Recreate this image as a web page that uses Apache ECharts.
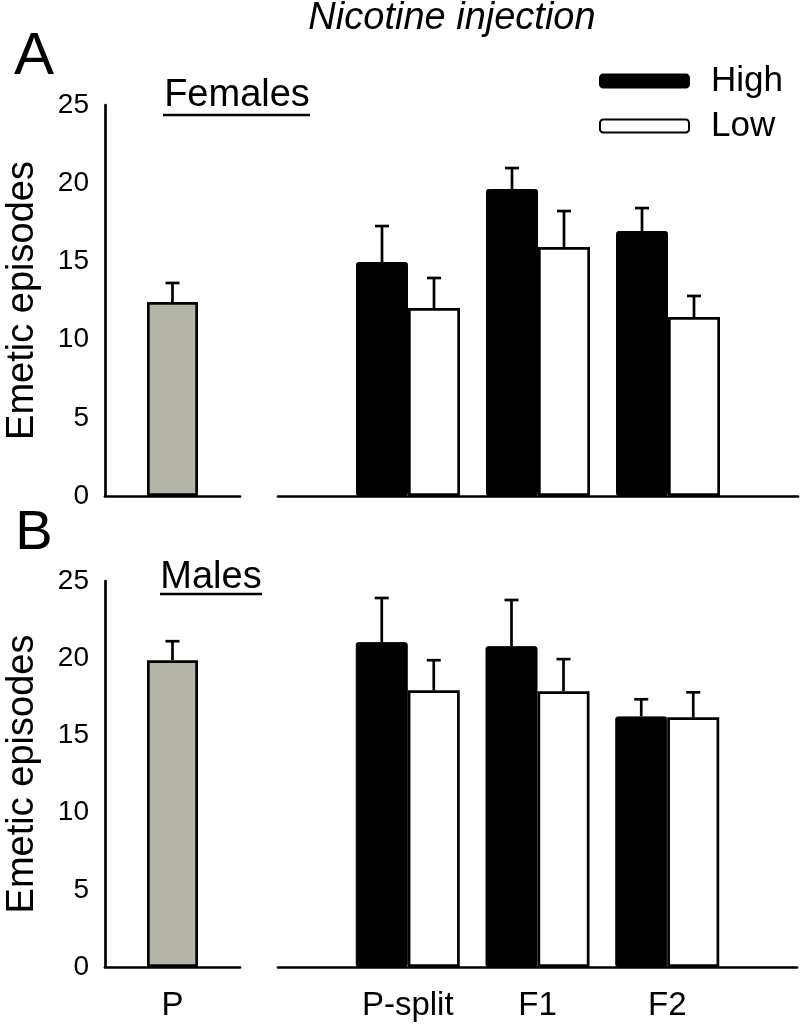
<!DOCTYPE html>
<html>
<head>
<meta charset="utf-8">
<title>Nicotine injection</title>
<script src="https://cdn.jsdelivr.net/npm/echarts@6/dist/echarts.min.js"></script>
<style>
  html, body { margin: 0; padding: 0; background: #fff; }
  #chart { width: 800px; height: 1029px; }
</style>
</head>
<body>
<div id="chart"></div>
<script>
// 数据
const leftCats = ['P'];
const rightCats = ['', 'P-split', 'F1', 'F2', ''];
const yTicks = [0, 5, 10, 15, 20, 25];

// A: Females
const femP = [12.4];
const femPErr = [1.22];
const femHigh = [14.96, 19.63, 16.94];
const femHighErr = [2.3, 1.34, 1.47];
const femLow = [12.02, 15.92, 11.44];
const femLowErr = [1.92, 2.3, 1.35];

// B: Males
const maleP = [19.87];
const malePErr = [1.23];
const maleHigh = [21.04, 20.78, 16.23];
const maleHighErr = [2.86, 2.99, 1.11];
const maleLow = [17.92, 17.86, 16.17];
const maleLowErr = [1.95, 2.08, 1.62];

const FONT = 'Liberation Sans, Arial, Helvetica, sans-serif';
const BAR_W = 52;
const LW = 2.7;

let dom = document.getElementById('chart');
let chart = echarts.init(dom, null, { renderer: 'canvas' });

// 误差线: data = [类目索引, 均值, 误差], offset 为相对类目中心的像素偏移
function errorSeries (name, xIdx, yIdx, means, errs, startIdx, offset) {
  return {
    name: name,
    type: 'custom',
    xAxisIndex: xIdx,
    yAxisIndex: yIdx,
    z: 5,
    silent: true,
    data: means.map((m, i) => [startIdx + i, m, errs[i]]),
    renderItem: function (params, api) {
      let base = api.coord([api.value(0), api.value(1)]);
      let top = api.coord([api.value(0), api.value(1) + api.value(2)]);
      let x = base[0] + offset;
      let style = { stroke: '#000', lineWidth: LW };
      return {
        type: 'group',
        children: [
          { type: 'line', shape: { x1: x, y1: base[1], x2: x, y2: top[1] }, style: style },
          { type: 'line', shape: { x1: x - 7, y1: top[1], x2: x + 7, y2: top[1] }, style: style }
        ]
      };
    }
  };
}

function barSeries (name, xIdx, yIdx, values, startIdx, itemStyle, width) {
  let data = [];
  for (let i = 0; i < startIdx; i++) data.push('-');
  values.forEach(v => data.push(v));
  return {
    name: name,
    type: 'bar',
    xAxisIndex: xIdx,
    yAxisIndex: yIdx,
    barWidth: width,
    barGap: '0%',
    data: data,
    itemStyle: itemStyle,
    emphasis: { disabled: true },
    z: 2
  };
}

const highStyle = { color: '#000', borderColor: '#000', borderWidth: 1, borderRadius: 2 };
const lowStyle = { color: '#fff', borderColor: '#000', borderWidth: LW };
const pStyle = { color: '#b4b4a8', borderColor: '#000', borderWidth: LW };

const panels = [
  { top: 105, height: 391 },
  { top: 581, height: 386 }
];

let grids = [];
let xAxes = [];
let yAxes = [];
panels.forEach((p, k) => {
  grids.push({ left: 105, width: 135, top: p.top, height: p.height });
  grids.push({ left: 278, width: 520, top: p.top, height: p.height });
  let showLabel = k === 1;
  xAxes.push({
    type: 'category', gridIndex: 2 * k, data: leftCats, boundaryGap: true,
    axisLine: { lineStyle: { color: '#000', width: LW } },
    axisTick: { show: false },
    axisLabel: { show: showLabel, color: '#000', fontSize: 33, fontFamily: FONT, margin: 22 }
  });
  xAxes.push({
    type: 'category', gridIndex: 2 * k + 1, data: rightCats, boundaryGap: false,
    axisLine: { lineStyle: { color: '#000', width: LW } },
    axisTick: { show: false },
    axisLabel: { show: showLabel, interval: 0, color: '#000', fontSize: 33, fontFamily: FONT, margin: 22 }
  });
  yAxes.push({
    type: 'value', gridIndex: 2 * k, min: yTicks[0], max: yTicks[yTicks.length - 1], interval: 5,
    name: 'Emetic episodes', nameLocation: 'middle', nameRotate: 90, nameGap: 63,
    nameTextStyle: { color: '#000', fontSize: 38, fontFamily: FONT },
    axisLine: { show: true, lineStyle: { color: '#000', width: LW } },
    axisTick: { show: false },
    splitLine: { show: false },
    axisLabel: { color: '#000', fontSize: 28, fontFamily: FONT, margin: 16 }
  });
  yAxes.push({
    type: 'value', gridIndex: 2 * k + 1, min: 0, max: 25, interval: 5, show: false,
    splitLine: { show: false }
  });
});

const half = BAR_W / 2;

const option = {
  animation: false,
  backgroundColor: '#fff',
  textStyle: { fontFamily: FONT },
  grid: grids,
  xAxis: xAxes,
  yAxis: yAxes,
  legend: {
    data: ['High', 'Low'],
    orient: 'vertical',
    left: 599,
    top: 62,
    padding: 0,
    itemWidth: 89,
    itemHeight: 13,
    itemGap: 7,
    icon: 'roundRect',
    selectedMode: false,
    textStyle: { color: '#000', fontSize: 35, fontFamily: FONT, lineHeight: 38, padding: [0, 0, 0, 17] }
  },
  series: [
    // A
    barSeries('Parent', 0, 0, femP, 0, pStyle, 51),
    errorSeries('errA-P', 0, 0, femP, femPErr, 0, 0),
    barSeries('High', 1, 1, femHigh, 1, highStyle, BAR_W),
    barSeries('Low', 1, 1, femLow, 1, lowStyle, BAR_W),
    errorSeries('errA-H', 1, 1, femHigh, femHighErr, 1, -half),
    errorSeries('errA-L', 1, 1, femLow, femLowErr, 1, half),
    // B
    barSeries('Parent', 2, 2, maleP, 0, pStyle, 51),
    errorSeries('errB-P', 2, 2, maleP, malePErr, 0, 0),
    barSeries('High', 3, 3, maleHigh, 1, highStyle, BAR_W),
    barSeries('Low', 3, 3, maleLow, 1, lowStyle, BAR_W),
    errorSeries('errB-H', 3, 3, maleHigh, maleHighErr, 1, -half),
    errorSeries('errB-L', 3, 3, maleLow, maleLowErr, 1, half)
  ],
  graphic: [
    { type: 'text', style: { text: 'Nicotine injection', x: 452, y: 18, align: 'center', verticalAlign: 'middle', fill: '#000', font: 'italic 38px ' + FONT } },
    { type: 'text', style: { text: 'A', x: 34, y: 57, align: 'center', verticalAlign: 'middle', fill: '#000', font: '60px ' + FONT } },
    { type: 'text', style: { text: 'B', x: 34, y: 534, align: 'center', verticalAlign: 'middle', fill: '#000', font: '56px ' + FONT } },
    { type: 'text', style: { text: 'Females', x: 237, y: 96, align: 'center', verticalAlign: 'middle', fill: '#000', font: '38px ' + FONT } },
    { type: 'line', shape: { x1: 163, y1: 115, x2: 310, y2: 115 }, style: { stroke: '#000', lineWidth: 2.7 } },
    { type: 'text', style: { text: 'Males', x: 211, y: 578, align: 'center', verticalAlign: 'middle', fill: '#000', font: '38px ' + FONT } },
    { type: 'line', shape: { x1: 160, y1: 594, x2: 262, y2: 594 }, style: { stroke: '#000', lineWidth: 2.7 } }
  ]
};

chart.setOption(option, true);
</script>
</body>
</html>
